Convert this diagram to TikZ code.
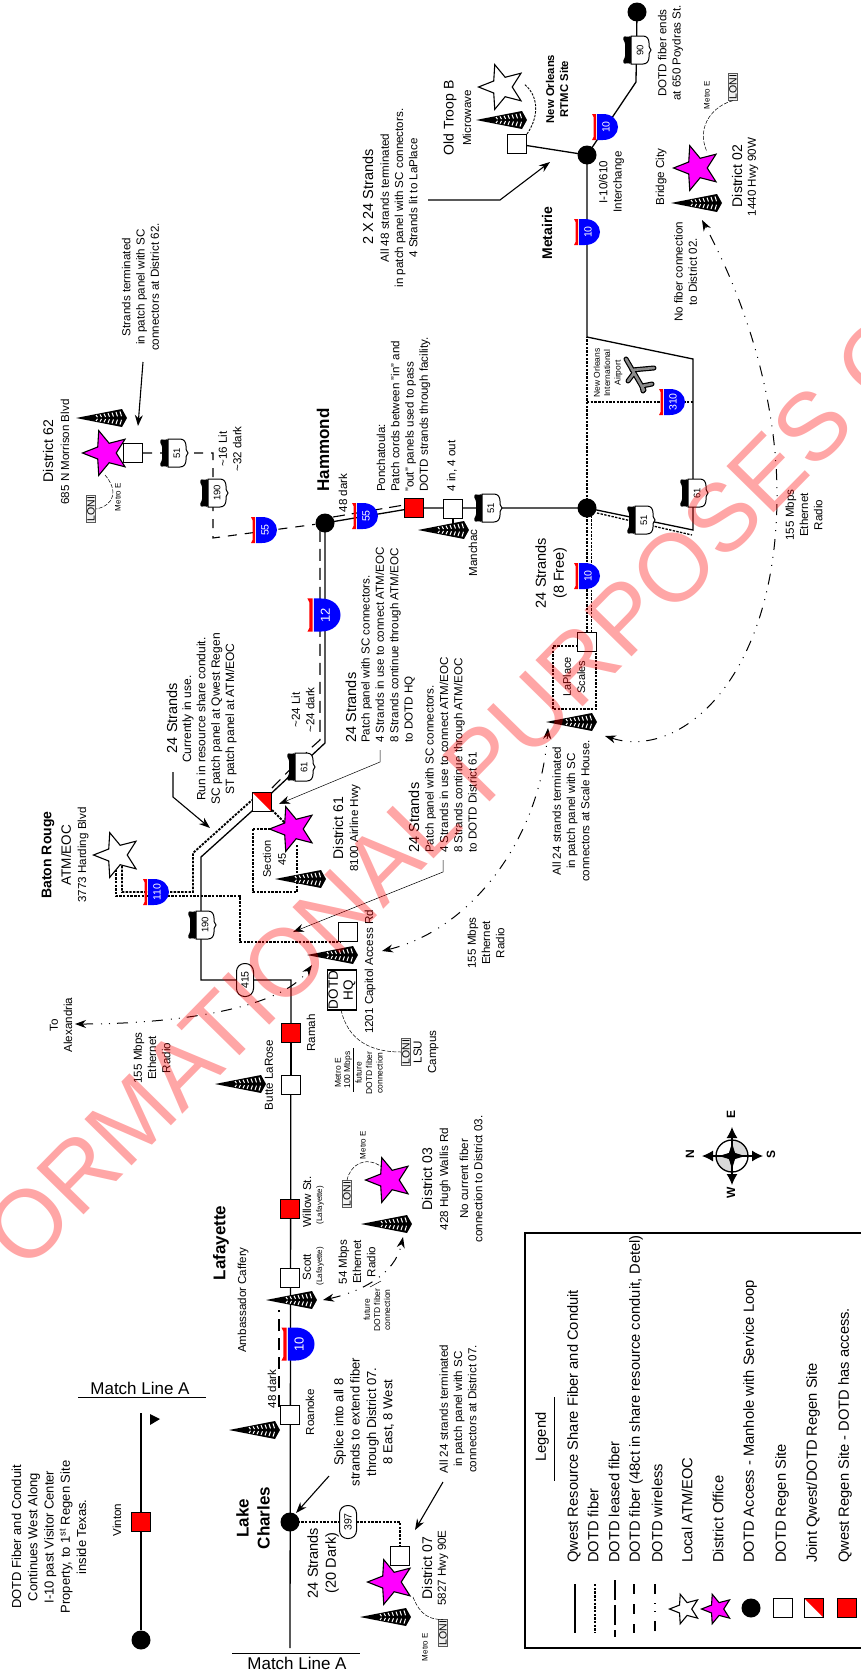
\documentclass[tikz,border=0pt]{standalone}
\usepackage{fontspec}
\setmainfont{Liberation Sans}
\usetikzlibrary{arrows.meta,shapes.geometric,backgrounds}

\newcommand{\fsz}[2]{\fontsize{#1}{#2}\selectfont}
\definecolor{officeMag}{RGB}{255,0,255}
\definecolor{signBlue}{RGB}{0,0,255}
\definecolor{stampRed}{RGB}{255,0,0}

\tikzset{
  % text
  lblS/.style={rotate=90,align=center,inner sep=0,font=\fsz{8.5}{10}},
  lblM/.style={rotate=90,align=center,inner sep=0,font=\fsz{11.6}{14.3}},
  lblL/.style={rotate=90,align=center,inner sep=0,font=\fsz{13}{16.3}},
  lblH/.style={rotate=90,align=center,inner sep=0,font=\fsz{14.5}{18}},
  lblB/.style={rotate=90,align=center,inner sep=0,font=\bfseries\fsz{17}{21}},
  lblSide/.style={lblM,anchor=west,align=left},
  lblLegend/.style={rotate=90,anchor=west,inner sep=0,font=\fsz{14.7}{17}},
  % sites
  hub/.style={circle,fill=black,minimum size=19pt,inner sep=0},
  site/.style={draw,fill=white,minimum size=19pt,inner sep=0,line width=1.1pt},
  regen/.style={site,fill=red},
  joint/.style={site,path picture={\fill[red] (path picture bounding box.north west)--(path picture bounding box.north east)--(path picture bounding box.south east)--cycle;}},
  office/.style={star,star points=5,star point ratio=2.3,shape border rotate=90,draw,fill=officeMag,line width=1.1pt,minimum size=47pt,inner sep=0},
  atm/.style={office,fill=white},
  pill/.style={draw,fill=white,rotate=90,rounded corners=8pt,minimum width=33pt,minimum height=17pt,inner sep=0,line width=1pt,font=\fsz{10.5}{11}},
  loni/.style={draw=black!65,fill=black!6,rotate=90,line width=.8pt,inner sep=1pt,font=\fsz{10.5}{11}},
  % fiber
  resource/.style={line width=1.3pt},
  dotfiber/.style={line width=1.9pt,dash pattern=on 2.4pt off 1.3pt},
  dark48/.style={line width=1.1pt,dash pattern=on 12pt off 7pt},
  radio/.style={<->,line width=1pt,dash pattern=on 11pt off 8pt on 1pt off 7pt on 1pt off 7pt},
  metro/.style={line width=.5pt,dash pattern=on 4pt off 1.5pt},
  callout/.style={->,line width=1.1pt},
  thincall/.style={->,line width=.5pt},
  % road signs and masts
  pics/ishield/.style n args={2}{code={
    \fill[signBlue] (-8,-13)--(-2,-13) .. controls (7,-13) and (13,-7) .. (13,0) .. controls (13,7) and (7,13) .. (-2,13)--(-8,13)--cycle;
    \fill[red] (-13,-13)--(-9,-13)--(-9,13)--(-13,13)--(-11.5,10)--(-11.5,-10)--cycle;
    \node[rotate=90,white,inner sep=0,font=#2] (-t) at (1,0) {#1};
  }},
  pics/ushield/.style={code={
    \fill[black,rounded corners=1pt] (-5,-14)--(-9,-13)--(-12,-14)--(-13,-11)--(-11,-7)--(-11,7)--(-13,11)--(-12,14)--(-9,13)--(-5,14)--cycle;
    \draw[fill=white,line width=1pt] (-5,-14)--(7,-14) .. controls (11,-14) and (13,-11) .. (13,-7) .. controls (13,-4) and (13,-2) .. (15,0) .. controls (13,2) and (13,4) .. (13,7) .. controls (13,11) and (11,14) .. (7,14)--(-5,14)--cycle;
    \node[rotate=90,inner sep=0,font=\fsz{9.5}{10}] (-t) at (4,0) {#1};
  }},
  pics/mast/.style={code={
    \fill[black] (0,0)--(46,-9)--(51,0)--(46,9)--cycle;
    \foreach \x in {20,24,...,46}{
      \draw[white,line width=1pt] (\x,-.15*\x)--(\x+1.5,-.04*\x);
      \draw[white,line width=1pt] (\x,.15*\x)--(\x+1.5,.04*\x);
    }
  }},
}

\begin{document}
\begin{tikzpicture}[x=1pt,y=-1pt,>={Stealth[length=11pt,width=8pt]}]
  \useasboundingbox (0,0) rectangle (860,1673);

  % sites on the main run
  \node[hub] (vintonEnd) at (141,1640) {};
  \node[regen] (vinton) at (141,1522) {};
  \node[hub] (lakeCharles) at (290,1522) {};
  \node[site] (roanoke) at (290,1415) {};
  \node[site] (scott) at (290,1278) {};
  \node[regen] (willow) at (290,1209) {};
  \node[site] (butte) at (291,1085) {};
  \node[regen] (ramah) at (291,1033) {};
  \node[site] (capitol) at (348,932) {};
  \node[joint] (sect45) at (262,802) {};
  \node[hub] (hammond) at (325,523) {};
  \node[regen] (ponchatoula) at (414,508) {};
  \node[site] (manchac) at (453,509) {};
  \node[hub] (laplaceJct) at (587,508) {};
  \node[site] (laplace) at (587,642) {};
  \node[hub] (interchange) at (587,155) {};
  \node[site] (troopB) at (517,144) {};
  \node[hub] (poydras) at (637,12) {};
  \node[site] (dist62Box) at (133,453) {};
  \node[site] (dist07Box) at (400,1556) {};

  % offices
  \node[office] (dist07) at (391,1582) {};
  \node[office] (dist03) at (389,1180) {};
  \node[office] (dist61) at (293,829) {};
  \node[office] (dist62) at (106,453) {};
  \node[office] (dist02) at (697,168) {};
  \node[atm] (batonRouge) at (117,855) {};
  \node[atm] (troopStar) at (502,87) {};
  \node[draw,line width=1.1pt,minimum width=40pt,minimum height=29pt,inner sep=0,rotate=90] (dotdHQ) at (342,990) {};
  \node[rotate=90,align=center,inner sep=0,font=\fsz{13.5}{15}] (dotdHQt) at (342,990) {DOTD\\HQ};

  % masts
  \pic at (229,1430) {mast};
  \pic at (266,1300) {mast};
  \pic at (361,1224) {mast};
  \pic at (360,1617) {mast};
  \pic at (215,1084) {mast};
  \pic at (307,955) {mast};
  \pic at (275,879) {mast};
  \pic at (76,418) {mast};
  \pic at (418,530) {mast};
  \pic at (546,722) {mast};
  \pic at (476,120) {mast};
  \pic at (671,203) {mast};

  % road signs
  \pic[scale=1.27] (i10w) at (298,1344) {ishield={10}{\fsz{13}{13}}};
  \pic[scale=1.27] (i12) at (324,615) {ishield={12}{\fsz{13}{13}}};
  \pic (i110) at (156,892) {ishield={110}{\fsz{10.5}{11}}};
  \pic (i55a) at (264,530) {ishield={55}{\fsz{10.5}{11}}};
  \pic (i55b) at (365,516) {ishield={55}{\fsz{10.5}{11}}};
  \pic (i10a) at (587,576) {ishield={10}{\fsz{10.5}{11}}};
  \pic (i10b) at (587,232) {ishield={10}{\fsz{10.5}{11}}};
  \pic (i10c) at (605,127) {ishield={10}{\fsz{10.5}{11}}};
  \pic (i310) at (672,402) {ishield={310}{\fsz{10.5}{11}}};
  \pic (us190a) at (201,925) {ushield={190}};
  \pic (us190b) at (213,493) {ushield={190}};
  \pic (us51a) at (173,453) {ushield={51}};
  \pic (us51b) at (487,508) {ushield={51}};
  \pic (us51c) at (640,520) {ushield={51}};
  \pic (us61a) at (300,767) {ushield={61}};
  \pic (us61b) at (693,493) {ushield={61}};
  \pic (us90) at (636,50) {ushield={90}};
  \node[pill] (la397) at (348,1522) {397};
  \node[pill] (la415) at (245,980) {415};

  % corners of the runs
  \coordinate (matchEnd) at (290,1648);
  \coordinate (vintonTop) at (141,1413);
  \coordinate (bend415) at (291,980);
  \coordinate (bendBR) at (201,980);
  \coordinate (bendDiag) at (201,857);
  \coordinate (bendHam) at (325,743);
  \coordinate (loopA) at (693,530);
  \coordinate (loopB) at (693,359);
  \coordinate (loopC) at (587,337);
  \coordinate (endBend) at (636,82);
  \coordinate (dk1) at (279,1407);
  \coordinate (dk2) at (279,1310);
  \coordinate (dk3) at (272,788);
  \coordinate (dk4) at (311,748);
  \coordinate (dk5) at (320,740);
  \coordinate (dk6) at (320,526);
  \coordinate (dk7) at (333,517);
  \coordinate (dk8) at (404,505);
  \coordinate (dk9) at (213,453);
  \coordinate (dk10) at (213,538);
  \coordinate (lc1) at (400,1522);
  \coordinate (br1) at (116,866);
  \coordinate (br2) at (116,896);
  \coordinate (br3) at (240,896);
  \coordinate (br4) at (240,942);
  \coordinate (br5) at (340,942);
  \coordinate (br6) at (122,866);
  \coordinate (br7) at (122,892);
  \coordinate (br8) at (193,892);
  \coordinate (br9) at (193,853);
  \coordinate (br10) at (252,800);
  \coordinate (s45a) at (272,810);
  \coordinate (s45b) at (285,823);
  \coordinate (s45c) at (253,829);
  \coordinate (s45d) at (253,892);
  \coordinate (s45e) at (297,892);
  \coordinate (s45f) at (297,845);
  \coordinate (lp1) at (591.5,512);
  \coordinate (lp2) at (591.5,633);
  \coordinate (lp3) at (553,646);
  \coordinate (lp4) at (553,709);
  \coordinate (lp5) at (596,709);
  \coordinate (lp6) at (596,651);
  \coordinate (lp7) at (578,646);
  \coordinate (lo1) at (597,513);
  \coordinate (lo2) at (692,535);
  \coordinate (a310w) at (587,402);
  \coordinate (a310e) at (693,402);

  \begin{scope}[on background layer]
    \draw[resource] (vintonTop)--(vintonEnd);
    \draw[resource] (matchEnd)--(bend415)--(bendBR)--(bendDiag)--(sect45.center)--(bendHam)--(hammond.center)--(ponchatoula.center)--(laplaceJct.center)--(loopA)--(loopB)--(loopC)--(interchange.center)--(endBend)--(poydras.center);
    \draw[resource] (ramah.center)--(butte.center);
    \draw[resource] (interchange.center)--(troopB.center);
    \draw[resource] (manchac.center)--(453,525);
    \draw[dark48] (dk1)--(dk2);
    \draw[dark48] (dk3)--(dk4)--(dk5)--(dk6);
    \draw[dark48] (dk7)--(dk8);
    \draw[dark48,dash pattern=on 9pt off 8pt] (dist62Box.east)--(dk9)--(dk10)--(hammond);
    \draw[dotfiber] (lakeCharles.center)--(lc1)--(dist07Box.north);
    \draw[dotfiber] (br1)--(br2)--(br3)--(br4)--(br5);
    \draw[dotfiber] (br6)--(br7)--(br8)--(br9)--(br10);
    \draw[dotfiber] (s45a)--(s45b);
    \draw[dotfiber] (s45c)--(s45d)--(s45e)--(s45f);
    \draw[dotfiber] (s45c)--(272,829);
    \draw[dotfiber] (laplaceJct.center)--(laplace.center);
    \draw[dotfiber] (lp1)--(lp2);
    \draw[dotfiber] (lp7)--(lp3)--(lp4)--(lp5)--(lp6);
    \draw[dotfiber,line width=1.3pt] (lo1)--(lo2);
    \draw[dotfiber,line width=1.3pt] (laplaceJct.center)--(loopC);
    \draw[dotfiber,line width=1.3pt] (a310w)--(a310e);
    \draw[dotfiber,line width=.9pt] (troopB.north east) .. controls (540,115) and (538,95) .. (524,84);
  \end{scope}

  % radio hops
  \coordinate (r54a) at (323,1300);
  \coordinate (r54b) at (403,1237);
  \coordinate (rAlex) at (75,1024);
  \coordinate (rCap) at (312,965);
  \coordinate (rCapB) at (382,951);
  \coordinate (rLpA) at (548,728);
  \coordinate (rLpB) at (605,736);
  \coordinate (rBulge) at (777,500);
  \coordinate (rBridge) at (702,220);
  \draw[radio] (r54a) .. controls (360,1292) and (395,1275) .. (r54b);
  \draw[radio] (rAlex) .. controls (170,1024) and (280,1010) .. (rCap);
  \draw[radio] (rCapB) .. controls (470,930) and (540,840) .. (rLpA);
  \draw[radio] (rLpB) .. controls (680,760) and (775,680) .. (rBulge) .. controls (778,400) and (745,300) .. (rBridge);

  % metro links
  \node[loni] (loni03) at (347,1194) {LONI};
  \node[loni] (loni07) at (443,1633) {LONI};
  \node[loni] (loni62) at (91,509) {LONI};
  \node[loni] (loni02) at (733,87) {LONI};
  \node[loni] (loniLSU) at (406,1052) {LONI};
  \draw[metro] (loni03.east) .. controls (350,1165) and (365,1155) .. (382,1167);
  \draw[metro] (413,1597) .. controls (420,1615) and (430,1620) .. (loni07.east);
  \draw[metro] (105,475) .. controls (118,490) and (115,505) .. (loni62.south);
  \draw[metro] (loni02.west) .. controls (715,105) and (695,125) .. (707,152);
  \draw[metro] (341,1010) .. controls (348,1040) and (370,1052) .. (loniLSU.north);
  \draw[line width=.5pt] (370,1287)--(381,1281);
  \draw[line width=.7pt] (353,1048)--(353,1092);

  % callouts
  \coordinate (cSplice) at (329,1476);
  \coordinate (cAll07) at (443,1482);
  \coordinate (cDist62) at (143,362);
  \coordinate (cNola1) at (428,200);
  \coordinate (cNola2) at (500,200);
  \coordinate (cRes1) at (173,772);
  \coordinate (cRes2) at (173,797);
  \coordinate (cHQ1) at (380,750);
  \coordinate (cHQ2) at (380,762);
  \coordinate (c61a) at (443,860);
  \coordinate (c61b) at (443,872);
  \draw[callout] (cSplice)--(296,1513);
  \draw[callout] (cAll07)--(415,1530);
  \draw[callout] (cDist62)--(138,426);
  \draw[callout] (cNola1)--(cNola2)--(550,162);
  \draw[callout] (cRes1)--(cRes2)--(210,828);
  \draw[thincall] (cHQ1)--(cHQ2)--(279,804);
  \draw[thincall] (c61a)--(c61b)--(293,932);

  % west end
  \node[inner sep=0,font=\fsz{17}{18}] (match1) at (140,1388) {Match Line A};
  \node[inner sep=0,font=\fsz{17}{18}] (match2) at (297,1663) {Match Line A};
  \draw[line width=.7pt] (78,1397)--(206,1397);
  \draw[line width=.7pt] (232,1653)--(360,1653);
  \fill (150,1414)--(160,1419)--(150,1425)--cycle;
  \node[lblM] (tVinton) at (117,1520) {Vinton};
  \node[lblL] (tTexas) at (49,1537) {DOTD Fiber and Conduit\\Continues West Along\\I-10 past Visitor Center\\Property, to 1\textsuperscript{st} Regen Site\\inside Texas.};

  % labels, west to east
  \node[lblB] (tLake) at (253,1518) {Lake\\Charles};
  \node[lblH] (tLc24) at (323,1563) {24 Strands\\(20 Dark)};
  \node[lblL] (tSplice) at (364,1422) {Splice into all 8\\strands to extend fiber\\through District 07.\\8 East, 8 West};
  \node[lblM] (tRoanoke) at (310,1412) {Roanoke};
  \node[lblM] (t48a) at (272,1389) {48 dark};
  \node[lblM] (tAmb) at (243,1300) {Ambassador Caffery};
  \node[lblB] (tLaf) at (221,1243) {Lafayette};
  \node[lblM] (tScott) at (307,1267) {Scott};
  \node[lblS,font=\fsz{8}{9}] (tScottB) at (320,1266) {(Lafayette)};
  \node[lblM] (tWillow) at (307,1202) {Willow St.};
  \node[lblS,font=\fsz{8}{9}] (tWillowB) at (320,1205) {(Lafayette)};
  \node[lblM] (t54) at (357,1262) {54 Mbps\\Ethernet\\Radio};
  \node[lblS,font=\fsz{8.5}{10.2}] (tFut) at (377,1310) {future\\DOTD fiber\\connection};
  \node[lblS,font=\fsz{8}{9}] (tMe03) at (363,1145) {Metro E};
  \node[lblH,font=\fsz{14}{15}] (tD03) at (427,1179) {District 03};
  \node[lblM] (tD03a) at (445,1179) {428 Hugh Wallis Rd};
  \node[lblM] (tD03b) at (471,1179) {No current fiber\\connection to District 03.};
  \node[lblH,font=\fsz{14}{15}] (tD07) at (427,1568) {District 07};
  \node[lblM] (tD07a) at (443,1568) {5827 Hwy 90E};
  \node[lblS,font=\fsz{8}{9}] (tMe07) at (425,1647) {Metro E};
  \node[lblM] (tAll07) at (458,1409) {All 24 strands terminated\\in patch panel with SC\\connectors at District 07.};

  \node[lblM] (tAlex) at (61,1025) {To\\Alexandria};
  \node[lblM] (t155a) at (152,1058) {155 Mbps\\Ethernet\\Radio};
  \node[lblM] (tButte) at (269,1075) {Butte LaRose};
  \node[lblM] (tRamah) at (311,1033) {Ramah};
  \node[lblM] (tCapAcc) at (370,972) {1201 Capitol Access Rd};
  \node[lblM] (tLSU) at (426,1052) {LSU\\Campus};
  \node[lblS,font=\fsz{8.5}{10}] (tMeHQ) at (338,1073) {Metro E};
  \node[lblS,font=\fsz{8.5}{10}] (t100) at (348,1070) {100 Mbps};
  \node[lblS,font=\fsz{8.5}{10.5}] (tFutHQ) at (369,1073) {future\\DOTD fiber\\connection};
  \node[lblB,font=\bfseries\fsz{14}{15.5}] (tBR) at (48,855) {Baton Rouge};
  \node[lblH,font=\fsz{13.5}{15}] (tBRa) at (66,855) {ATM/EOC};
  \node[lblM] (tBRb) at (83,855) {3773 Harding Blvd};
  \node[lblS,font=\fsz{11}{15}] (tSec) at (274.5,859) {Section\\45};
  \node[lblH,font=\fsz{14}{15}] (tD61) at (338,828) {District 61};
  \node[lblM] (tD61a) at (355,828) {8100 Airline Hwy};
  \node[lblH] (tRes) at (172,718) {24 Strands};
  \node[lblM,font=\fsz{12}{14.4}] (tResB) at (209.5,719) {Currently in use.\\Run in resource share conduit.\\SC patch panel at Qwest Regen\\ST patch panel at ATM/EOC};
  \node[lblM] (tLit24) at (303,710) {\textasciitilde24 Lit\\\textasciitilde24 dark};
  \node[lblH,anchor=west] (tHQ) at (351,743) {24 Strands};
  \node[lblSide] (tHQb) at (388,743) {Patch panel with SC connectors.\\4 Strands in use to connect ATM/EOC\\8 Strands continue through ATM/EOC\\to DOTD HQ};
  \node[lblH,anchor=west] (t61h) at (414,853) {24 Strands};
  \node[lblSide] (t61b) at (451,853) {Patch panel with SC connectors.\\4 Strands in use to connect ATM/EOC\\8 Strands continue through ATM/EOC\\to DOTD District 61};
  \node[lblM] (t155b) at (486,943) {155 Mbps\\Ethernet\\Radio};

  \node[lblB] (tHam) at (323,450) {Hammond};
  \node[lblM] (t48b) at (343,493) {48 dark};
  \node[lblSide] (tPonch) at (403.5,492) {Ponchatoula:\\Patch cords between "in" and\\"out" panels used to pass\\DOTD strands through facility.};
  \node[lblH,font=\fsz{14}{15}] (tD62) at (48,451) {District 62};
  \node[lblM] (tD62a) at (65,452) {685 N Morrison Blvd};
  \node[lblS,font=\fsz{8}{9}] (tMe62) at (118,497) {Metro E};
  \node[lblM] (tLit16) at (230,449) {\textasciitilde16 Lit\\\textasciitilde32 dark};
  \node[lblM] (tD62b) at (140.5,287) {Strands terminated\\in patch panel with SC\\connectors at District 62.};
  \node[lblM] (tManchac) at (473,553) {Manchac};
  \node[lblM] (t4in) at (452,466) {4 in, 4 out};
  \node[lblH] (t8free) at (551,573) {24 Strands\\(8 Free)};
  \node[lblM] (tAll) at (571,811) {All 24 strands terminated\\in patch panel with SC\\connectors at Scale House.};
  \node[lblS,font=\fsz{11}{14.3}] (tScales) at (574,677) {LaPlace\\Scales};
  \node[lblM] (t155c) at (804,515) {155 Mbps\\Ethernet\\Radio};
  \node[lblS,font=\fsz{8.5}{10.4}] (tMSY) at (608,373) {New Orleans\\International\\Airport};

  \node[lblH] (tNola) at (368,197) {2 X 24 Strands};
  \node[lblM] (tNolaB) at (399,198) {All 48 strands terminated\\in patch panel with SC connectors.\\4 Strands lit to LaPlace};
  \node[lblB,font=\bfseries\fsz{14}{15}] (tMet) at (547,233) {Metairie};
  \node[lblM] (tI10) at (611.5,182) {I-10/610\\Interchange};
  \node[lblH,font=\fsz{14}{15}] (tTroop) at (450,118) {Old Troop B};
  \node[lblM] (tMicro) at (467,118) {Microwave};
  \node[lblM,font=\bfseries\fsz{11.3}{14}] (tRTMC) at (557,89) {New Orleans\\RTMC Site};
  \node[lblM] (tEnds) at (670.5,53) {DOTD fiber ends\\at 650 Poydras St.};
  \node[lblM] (tBridge) at (661,177) {Bridge City};
  \node[lblS,font=\fsz{8}{9}] (tMe02) at (707,95) {Metro E};
  \node[lblH,font=\fsz{14}{15}] (tD02) at (737,176) {District 02};
  \node[lblM] (tD02a) at (753,177) {1440 Hwy 90W};
  \node[lblM] (tNoFib) at (685.5,272) {No fiber connection\\to District 02.};

  % airport
  \foreach \w/\c in {5pt/black,2.6pt/black!45}{
    \draw[line width=\w,\c,line cap=round] (626,359)--(644,390);
    \draw[line width=\w,\c,line cap=round] (632,370)--(654,368);
    \draw[line width=\w,\c,line cap=round] (634,373)--(628,381);
    \draw[line width=\w,\c,line cap=round] (642,386)--(652,384);
    \draw[line width=\w,\c,line cap=round] (642,386)--(643,391);
  }

  % compass
  \coordinate (cmp) at (732,1156);
  \begin{scope}
    \clip (cmp) circle[radius=16pt];
    \fill[black!15] (732,1140) rectangle (748,1156);
    \fill[black!15] (716,1156) rectangle (732,1172);
  \end{scope}
  \draw[line width=1.3pt] (cmp) circle[radius=16pt];
  \foreach \dx/\dy in {-30/0,31/0,0/-29,0/29}
    \draw[line width=1.2pt,-{Latex[length=11pt,width=11pt]}] (cmp)--++(\dx,\dy);
  \node[star,star points=4,star point ratio=3,fill=black,minimum size=26pt,inner sep=0] (cmpStar) at (cmp) {};
  \node[rotate=90,inner sep=0,font=\bfseries\fsz{12}{13}] (tN) at (690,1154) {N};
  \node[rotate=90,inner sep=0,font=\bfseries\fsz{12}{13}] (tS) at (771,1154) {S};
  \node[rotate=90,inner sep=0,font=\bfseries\fsz{12}{13}] (tE) at (731,1114) {E};
  \node[rotate=90,inner sep=0,font=\bfseries\fsz{12}{13}] (tW) at (731,1193) {W};

  % legend
  \draw[line width=1.5pt] (875,1233)--(525,1233)--(525,1648)--(875,1648);
  \node[lblLegend,anchor=center] (lgTitle) at (542,1437) {Legend};
  \draw[line width=.8pt] (554,1397)--(554,1481);
  \foreach \nm/\x/\txt in {a/574/Qwest Resource Share Fiber and Conduit,b/593/DOTD fiber,c/614/DOTD leased fiber,d/636/{DOTD fiber (48ct in share resource conduit, Detel)},e/657/DOTD wireless,f/687/{Local ATM{/}EOC},g/718/District Office,h/750/DOTD Access - Manhole with Service Loop,i/782/DOTD Regen Site,j/813/{Joint Qwest{/}DOTD Regen Site},k/845/Qwest Regen Site - DOTD has access.}
    \node[lblLegend] (lg\nm) at (\x,1563) {\txt};
  \coordinate (sA1) at (575,1584); \coordinate (sA2) at (575,1633);
  \coordinate (sB1) at (595,1584); \coordinate (sB2) at (595,1633);
  \coordinate (sC1) at (615,1580); \coordinate (sC2) at (615,1637);
  \coordinate (sD1) at (634,1584); \coordinate (sD2) at (634,1633);
  \coordinate (sE1) at (655,1584); \coordinate (sE2) at (655,1633);
  \draw[resource] (sA1)--(sA2);
  \draw[dotfiber] (sB1)--(sB2);
  \draw[line width=1.1pt,dash pattern=on 20pt off 5pt] (sC1)--(sC2);
  \draw[line width=1.1pt,dash pattern=on 10pt off 10pt] (sD1)--(sD2);
  \draw[line width=1.1pt,dash pattern=on 10pt off 9pt on 1pt off 7pt on 1pt off 9pt] (sE1)--(sE2);
  \node[atm,minimum size=31pt] (lgAtm) at (685,1609) {};
  \node[office,minimum size=31pt] (lgOffice) at (717,1609) {};
  \node[hub] (lgHub) at (751,1608) {};
  \node[site] (lgSite) at (783,1608) {};
  \node[joint] (lgJoint) at (814,1608) {};
  \node[regen] (lgRegen) at (847,1608) {};

  % watermark
  \begin{scope}
    \clip (0,0) rectangle (860,1673);
    \node[rotate=45.5,stampRed,text opacity=.35,inner sep=0,font=\fsz{96}{100}] (stamp) at (454,791) {ORMATIONAL PURPOSES O};
  \end{scope}
\end{tikzpicture}
\end{document}
